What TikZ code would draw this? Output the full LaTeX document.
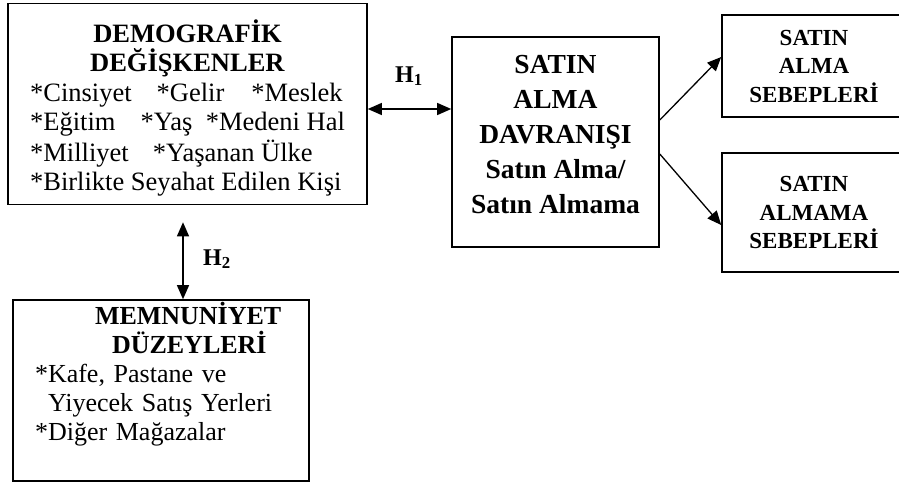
\documentclass[tikz,border=0pt]{standalone}
\usepackage{fontspec}
\setmainfont{Liberation Serif}
\usetikzlibrary{arrows.meta}

\begin{document}
\begin{tikzpicture}[x=1pt,y=-1pt,
  box/.style={draw,line width=1.6pt,inner sep=0pt,align=center},
  tip/.style={-{Triangle[length=14pt,width=12pt]}},
  link/.style={line width=1.3pt,tip},
  both/.style={line width=1.3pt,{Triangle[length=14pt,width=12pt]}-{Triangle[length=14pt,width=12pt]}},
  hyp/.style={font=\fontsize{24}{28}\selectfont\bfseries,inner sep=0pt,anchor=base west}]
\useasboundingbox (0,0) rectangle (899,482);
% boxes
\node[box,minimum width=359pt,minimum height=201pt,font=\fontsize{26.5}{29.6}\selectfont] (dem) at (187.5,104)
 {\rule{0pt}{34pt}\textbf{DEMOGRAFİK}\\\textbf{DEĞİŞKENLER}\\
  \begin{tabular}[t]{@{}l@{}}
  {*}Cinsiyet\hspace{25pt}*Gelir\hspace{27pt}*Meslek\\
  {*}Eğitim\hspace{25pt}*Yaş\hspace{13.5pt}*Medeni Hal\\
  {*}Milliyet\hspace{24pt}*Yaşanan Ülke\\
  {*}Birlikte Seyahat Edilen Kişi
  \end{tabular}};
\node[box,minimum width=207pt,minimum height=210pt,font=\fontsize{27.5}{35}\selectfont\bfseries] (davr) at (555.5,142)
 {SATIN\\ALMA\\DAVRANIŞI\\Satın Alma/\\Satın Almama\rule[-15pt]{0pt}{15pt}};
\node[box,minimum width=184pt,minimum height=102pt,font=\fontsize{23}{28.5}\selectfont\bfseries] (sebep) at (814,66)
 {SATIN\\ALMA\\SEBEPLERİ};
\node[box,minimum width=184pt,minimum height=119pt,font=\fontsize{23}{28.5}\selectfont\bfseries] (nsebep) at (814,212.5)
 {SATIN\\ALMAMA\\SEBEPLERİ};
\node[box,minimum height=181pt,inner xsep=22pt,text width=252pt,align=left,font=\fontsize{26}{29}\selectfont] (memn) at (161,390.5)
 {\hspace*{60pt}\textbf{MEMNUNİYET}\\
  \hspace*{77pt}\textbf{DÜZEYLERİ}\\
  {*}Kafe, Pastane ve\\
  \phantom{*}Yiyecek Satış Yerleri\\
  {*}Diğer Mağazalar\rule[-38pt]{0pt}{38pt}};
% hypotheses
\node[hyp] (h1) at (395,82) {H\textsubscript{1}};
\node[hyp] (h2) at (203,265) {H\textsubscript{2}};
% connectors
\draw[both] ([yshift=-5pt]dem.east) -- ([yshift=-5pt]dem.east -| davr.west);
\draw[both] ([xshift=-4.5pt,yshift=-17pt]dem.south) -- ([xshift=-4.5pt]dem.south |- memn.north);
\draw[link] ([yshift=22pt]davr.east) -- ([yshift=9pt]sebep.west);
\draw[link] ([yshift=-12pt]davr.east) -- ([yshift=-12.5pt]nsebep.west);
\end{tikzpicture}
\end{document}
